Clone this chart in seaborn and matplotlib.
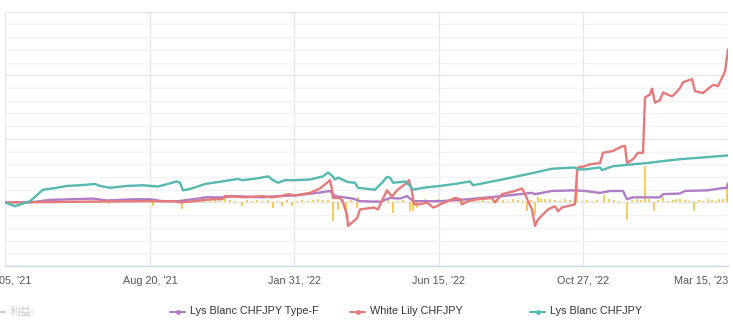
import numpy as np
import pandas as pd
import matplotlib
matplotlib.use("Agg")
import matplotlib.pyplot as plt
from matplotlib.lines import Line2D
from matplotlib.ticker import MultipleLocator
import seaborn as sns

# ---------------- data (bar index on x, profit on y) ----------------
tick_pos = [5, 150, 294, 439, 583, 728]
tick_labels = ["Apr 05, '21", "Aug 20, '21", "Jan 31, '22", "Jun 15, '22", "Oct 27, '22", "Mar 15, '23"]

teal_x = [5, 15, 30, 43, 53, 67, 80, 95, 100, 110, 127, 143, 158, 177, 180, 183, 192, 205, 222, 238,
          242, 258, 268, 273, 278, 285, 295, 310, 323, 328, 332, 335, 338, 348, 355, 358, 375, 382, 387, 390,
          393, 400, 405, 410, 413, 423, 440, 455, 470, 473, 502, 535, 552, 575, 577, 585, 600, 602, 613, 647,
          663, 680, 697, 713, 728]
teal_y = [0, -6, 2, 20, 22, 26, 27, 29, 26, 23, 26, 27, 25, 33, 31, 19, 22, 29, 33, 37,
          35, 38, 41, 35, 31, 35, 35, 36, 41, 47, 42, 36, 39, 32, 31, 23, 20, 31, 40, 39,
          31, 32, 33, 26, 20, 23, 26, 29, 33, 27, 36, 47, 53, 55, 52, 52, 55, 51, 57, 62,
          65, 68, 70, 72, 74]

purple_x = [5, 30, 50, 93, 107, 133, 150, 162, 178, 198, 205, 222, 235, 262, 278, 295, 317, 330, 335, 353,
            360, 380, 390, 400, 407, 413, 440, 468, 502, 532, 535, 552, 575, 585, 600, 610, 623, 627, 633, 660,
            663, 680, 685, 707, 720, 727, 728]
purple_y = [0, 0, 4, 6, 3, 5, 5, 2, 2, 6, 8, 8, 10, 8, 10, 11, 15, 18, 10, 6,
            2, 1, 7, 6, 10, 2, 2, 5, 10, 15, 13, 18, 19, 18, 15, 18, 18, 5, 8, 8,
            13, 14, 18, 19, 22, 23, 30]

red_x = [5, 145, 175, 180, 188, 212, 222, 225, 245, 262, 272, 282, 288, 295, 310, 320, 327, 330, 332, 333,
         340, 343, 347, 348, 357, 360, 374, 378, 382, 387, 392, 397, 407, 409, 412, 414, 420, 427, 433, 437,
         440, 448, 455, 460, 462, 468, 478, 492, 495, 502, 515, 522, 525, 528, 532, 535, 538, 548, 555, 558,
         562, 575, 577, 578, 585, 590, 600, 603, 613, 622, 625, 627, 633, 638, 643, 645, 650, 652, 655, 660,
         663, 667, 672, 675, 680, 683, 692, 695, 703, 713, 718, 723, 725, 728]
red_y = [0, 2, 2, 0, 1, 5, 5, 10, 8, 10, 8, 10, 13, 11, 15, 22, 31, 35, 20, 7,
         7, 0, -19, -37, -25, -11, -8, -11, 3, 19, 9, 19, 31, 35, 17, -3, -3, 0, -8, -6,
         -3, 2, 7, 5, -3, 2, 5, 7, 0, 13, 18, 22, 13, 2, -11, -37, -27, -11, -6, -14,
         -8, -3, 47, 55, 57, 60, 62, 78, 81, 88, 89, 62, 68, 78, 78, 165, 170, 179, 157, 161,
         173, 170, 167, 171, 180, 189, 194, 175, 172, 185, 183, 199, 206, 241]

profit_x = [95, 109, 120, 140, 153, 160, 182, 188, 194, 199, 204, 210, 215, 220, 225, 230, 235, 242, 247, 252,
            257, 262, 268, 273, 278, 282, 287, 292, 297, 302, 308, 313, 318, 323, 328, 333, 338, 343, 346, 351,
            357, 358, 362, 367, 372, 377, 383, 388, 393, 398, 403, 410, 413, 417, 420, 425, 430, 438, 443, 448,
            453, 458, 463, 468, 473, 478, 483, 488, 493, 498, 503, 508, 513, 518, 523, 527, 531, 535, 538, 541,
            545, 550, 555, 560, 565, 570, 577, 582, 587, 592, 597, 604, 609, 614, 619, 627, 632, 637, 641, 645,
            649, 654, 658, 663, 668, 673, 676, 680, 685, 689, 694, 699, 703, 708, 712, 716, 719, 723, 727, 728]
profit_y = [3, -3, 2, 3, -5, 3, -11, 4, 3, 4, 3, 4, 4, 3, 8, 4, 3, -5, 4, 3,
            4, 3, 4, -9, 3, -6, 4, -5, 3, 4, 3, 4, 5, 4, 4, -30, -12, 5, -24, 4,
            -8, 9, 3, 4, 3, 4, 5, 4, -16, 3, 4, -13, -13, -8, 3, 5, 4, 6, 3, 4,
            3, 4, 3, 4, 5, 3, 4, 3, 4, 3, 4, 3, 5, 4, 3, -13, 4, -20, 8, 5,
            6, 5, 4, 3, 5, 4, 47, 3, 4, 3, 4, 11, 5, 4, 3, -27, 4, 5, 4, 58,
            6, -13, 4, 9, 3, 4, 6, 5, 4, 3, -13, 4, 3, 5, 4, 3, 5, 6, 28, 11]

series_names = ["Lys Blanc CHFJPY Type-F", "White Lily CHFJPY", "Lys Blanc CHFJPY"]
colors = {"Lys Blanc CHFJPY Type-F": "#b07cc6",
          "White Lily CHFJPY": "#e57a7a",
          "Lys Blanc CHFJPY": "#56b9b0"}
bar_color = "#f4c02c"

df = pd.concat([
    pd.DataFrame({"bar": purple_x, "value": purple_y, "series": series_names[0]}),
    pd.DataFrame({"bar": red_x, "value": red_y, "series": series_names[1]}),
    pd.DataFrame({"bar": teal_x, "value": teal_y, "series": series_names[2]}),
], ignore_index=True)

# ---------------- figure ----------------
sns.set_theme(style="white")
plt.rcParams["font.family"] = ["Liberation Sans", "DejaVu Sans"]

W, H = 733, 332
fig = plt.figure(figsize=(W / 100, H / 100), dpi=100)
fig.patch.set_facecolor("white")
ax = fig.add_axes([5 / W, 1 - 266 / H, 723 / W, (266 - 11.7) / H])

ax.vlines(profit_x, 0, profit_y, colors=bar_color, linewidth=1.1, zorder=2)
sns.lineplot(data=df, x="bar", y="value", hue="series", hue_order=series_names,
             palette=colors, estimator=None, sort=False, linewidth=1.7,
             legend=False, ax=ax, zorder=3)

ax.set_xlim(5, 728)
ax.set_ylim(-100, 300)
ax.yaxis.set_major_locator(MultipleLocator(100))
ax.yaxis.set_minor_locator(MultipleLocator(20))
ax.set_yticklabels([])
ax.tick_params(axis="y", which="both", length=0)
ax.set_xticks(tick_pos)
ax.set_xticklabels(tick_labels, fontsize=7.8, color="#555555")
ax.tick_params(axis="x", length=0, pad=7)
ax.get_xticklabels()[-1].set_horizontalalignment("right")
ax.set_xlabel("")
ax.set_ylabel("")

ax.grid(True, which="major", axis="y", color="#e6e6e6", linewidth=1)
ax.grid(True, which="minor", axis="y", color="#f3f3f3", linewidth=1)
ax.grid(True, which="major", axis="x", color="#e6e6e6", linewidth=1)
ax.set_axisbelow(True)
for s in ["top", "left", "right"]:
    ax.spines[s].set_visible(False)
ax.spines["bottom"].set_color("#ccd6eb")
ax.spines["bottom"].set_linewidth(1)

# ---------------- legend (manual, Highcharts-like) ----------------
ly = 1 - 311.5 / H
def px(x):
    return x / W

fig.add_artist(Line2D([px(-6), px(5)], [ly, ly], color="#cccccc", lw=1.5, transform=fig.transFigure))
fig.text(px(10), ly, "利益:", fontsize=7.8, color="#cccccc", va="center", ha="left",
         family=["Noto Sans CJK JP", "DejaVu Sans"])

legend_items = [(170, series_names[0]), (350, series_names[1]), (530, series_names[2])]
for x0, name in legend_items:
    c = colors[name]
    fig.add_artist(Line2D([px(x0), px(x0 + 15)], [ly, ly], color=c, lw=1.5, transform=fig.transFigure))
    fig.add_artist(Line2D([px(x0 + 7.5)], [ly], color=c, marker="o", markersize=2.5,
                          transform=fig.transFigure))
    fig.text(px(x0 + 20), ly, name, fontsize=7.8, color="#333333", va="center", ha="left")

fig.savefig("out.png", dpi=100, facecolor="white")
